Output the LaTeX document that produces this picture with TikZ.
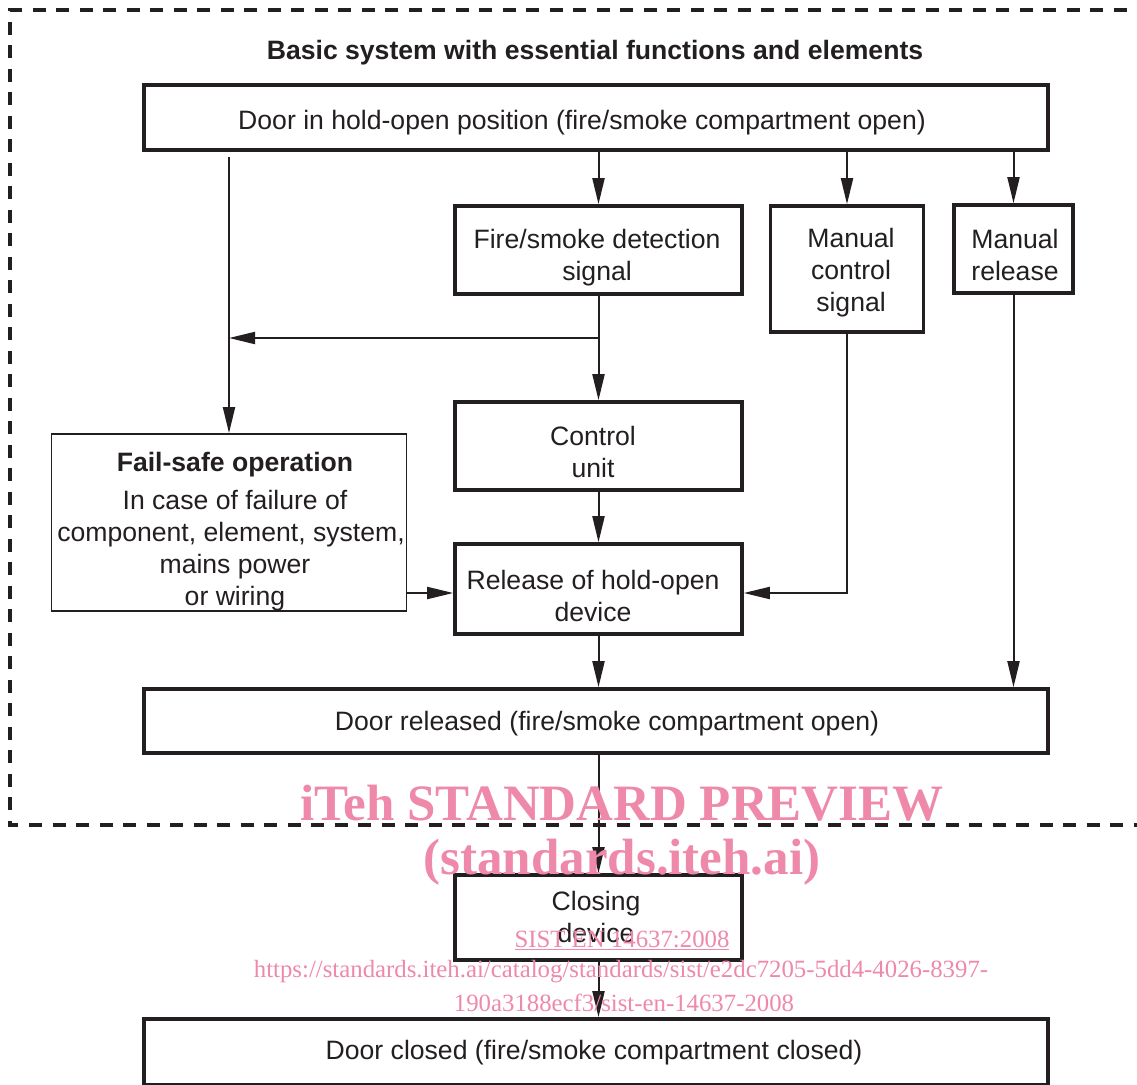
\documentclass[tikz,border=0pt]{standalone}
\usepackage{fontspec}
\setmainfont{Liberation Sans}
\newfontfamily\wmfont{Liberation Serif}
\usetikzlibrary{arrows.meta}
\definecolor{ink}{RGB}{35,31,32}
\definecolor{wm}{RGB}{238,137,170}
\begin{document}
\begin{tikzpicture}[x=1pt,y=-1pt,
  box/.style={draw=ink, line width=3.6pt, inner sep=0pt},
  thinbox/.style={box, line width=1.8pt},
  lbl/.style={align=center, inner sep=0pt, text=ink, font=\fontsize{26.6}{32}\selectfont},
  conn/.style={draw=ink, line width=2pt, -{Triangle[length=26pt,width=12pt]}},
  frame/.style={draw=ink, line width=3.5pt, dash pattern=on 13pt off 10.5pt},
  wmbig/.style={text=wm, font=\wmfont\bfseries\fontsize{51}{56}\selectfont, inner sep=0pt},
  wmsmall/.style={text=wm, font=\wmfont\fontsize{24.8}{30}\selectfont, inner sep=0pt}
]
\useasboundingbox (0,0) rectangle (1137,1084);
\clip (0,0) rectangle (1137,1084);
\fill[white] (0,0) rectangle (1137,1084);

% dashed frame
\draw[frame] (1150,10) -- (10,10) -- (10,825) -- (1150,825);

% title
\node[lbl, font=\bfseries\fontsize{26.6}{32}\selectfont] (title) at (595,53) {Basic system with essential functions and elements};

% boxes
\node[box, minimum width=904pt, minimum height=65pt] (top) at (596,117.5) {};
\node[box, minimum width=287pt, minimum height=88pt] (fsd) at (598.5,250) {};
\node[box, minimum width=153pt, minimum height=126pt] (mcs) at (847,269) {};
\node[box, minimum width=119pt, minimum height=88pt] (mr) at (1013.5,249) {};
\node[box, minimum width=287pt, minimum height=88pt] (cu) at (598.5,446) {};
\node[box, minimum width=287pt, minimum height=90pt] (rel) at (598.5,589) {};
\node[thinbox, minimum width=355pt, minimum height=177pt] (fs) at (229,522.5) {};
\node[box, minimum width=904pt, minimum height=64pt] (dr) at (596,721) {};
\node[box, minimum width=287pt, minimum height=85pt] (cd) at (598.5,917.5) {};
\node[box, minimum width=904pt, minimum height=66pt] (dc) at (596,1052) {};

% box texts
\node[lbl] (top-t) at (582,122.5) {Door in hold-open position (fire/smoke compartment open)};
\node[lbl] (fsd-t) at (597,257.5) {Fire/smoke detection\\signal};
\node[lbl] (mcs-t) at (851,273) {Manual\\control\\signal};
\node[lbl] (mr-t) at (1015,254.5) {Manual\\release};
\node[lbl] (cu-t) at (593,452) {Control\\unit};
\node[lbl] (rel-t) at (593,596) {Release of hold-open\\device};
\node[lbl] (fs-t) at (231,531.5) {\hspace*{8pt}{\bfseries Fail-safe operation}\\[6pt]\hspace*{8pt}In case of failure of\\component, element, system,\\\hspace*{8pt}mains power\\\hspace*{8pt}or wiring};
\node[lbl] (dr-t) at (607,724) {Door released (fire/smoke compartment open)};
\node[lbl] (cd-t) at (596,917) {Closing\\device};
\node[lbl] (dc-t) at (594,1053) {Door closed (fire/smoke compartment closed)};

% helper coordinates
\coordinate (lstart) at (229,157);
\coordinate (br) at (598.5,338);
\coordinate (y593) at (0,593);

% connectors
\draw[conn] (fsd.north |- top.south) -- (fsd.north);
\draw[conn] (mcs.north |- top.south) -- (mcs.north);
\draw[conn] (mr.north |- top.south) -- (mr.north);
\draw[conn] (lstart) -- (fs.north);
\draw[conn] (fsd.south) -- (cu.north);
\draw[conn] (br) -- (br -| lstart);
\draw[conn] (cu.south) -- (rel.north);
\draw[conn] (mcs.south) |- (rel.east |- y593);
\draw[conn] (fs.east |- y593) -- (rel.west |- y593);
\draw[conn] (rel.south) -- (rel.south |- dr.north);
\draw[conn] (mr.south) -- (mr.south |- dr.north);
\draw[conn] (cd.north |- dr.south) -- (cd.north);
\draw[conn] (cd.south) -- (cd.south |- dc.north);

% watermark
\node[wmbig] (wm1) at (622,803) {iTeh STANDARD PREVIEW};
\node[wmbig] (wm2) at (622,862) {(standards.iteh.ai)};
\node[wmsmall] (wm3) at (622,940) {\underline{SIST EN 14637:2008}};
\node[wmsmall] (wm4) at (621,972) {https://standards.iteh.ai/catalog/standards/sist/e2dc7205-5dd4-4026-8397-};
\node[wmsmall] (wm5) at (624,1003) {190a3188ecf3/sist-en-14637-2008};
\end{tikzpicture}
\end{document}
